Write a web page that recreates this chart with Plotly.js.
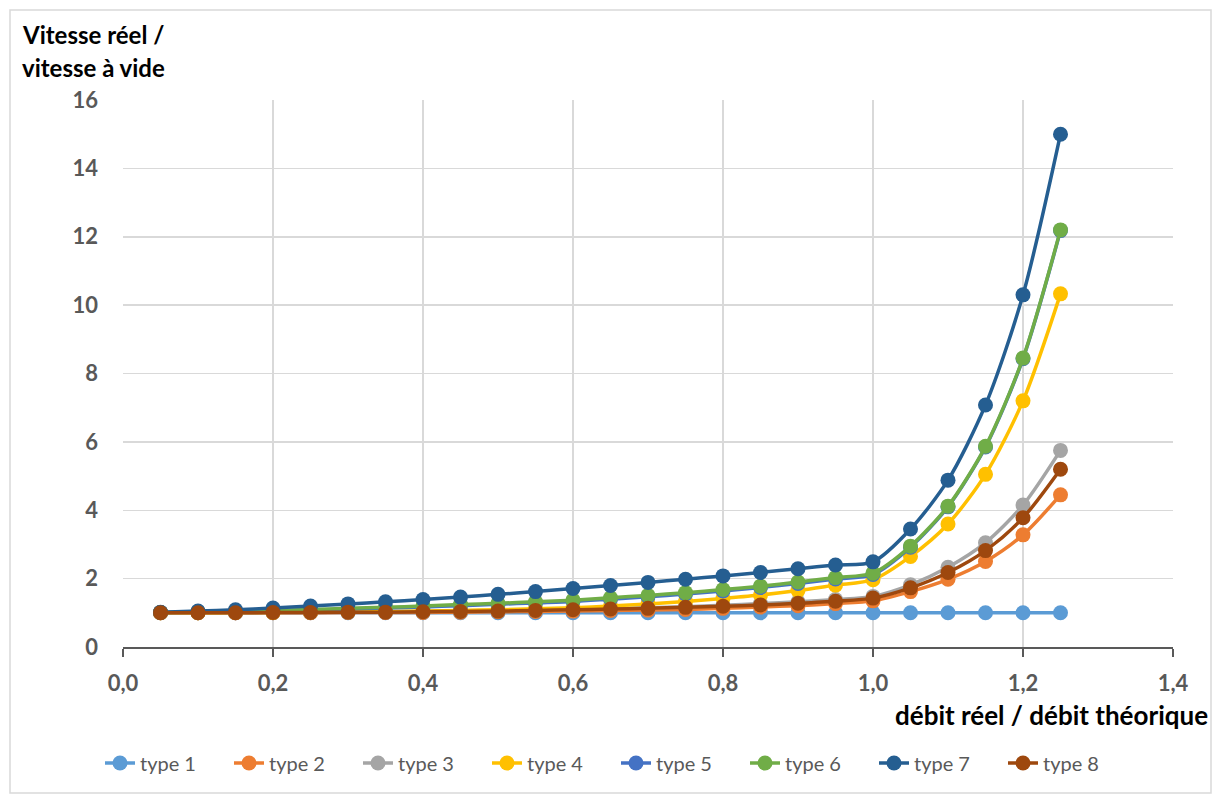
<!DOCTYPE html>
<html>
<head>
<meta charset="utf-8">
<script src="https://cdn.plot.ly/plotly-3.0.1.min.js"></script>
<style>html,body{margin:0;padding:0;background:#fff;}#chart{width:1212px;height:794px;}</style>
</head>
<body>
<div id="chart"></div>
<script>
const xValues = [0.05,0.10,0.15,0.20,0.25,0.30,0.35,0.40,0.45,0.50,0.55,0.60,0.65,0.70,0.75,0.80,0.85,0.90,0.95,1.00,1.05,1.10,1.15,1.20,1.25];
const type1 = [1,1,1,1,1,1,1,1,1,1,1,1,1,1,1,1,1,1,1,1,1,1,1,1,1];
const type2 = [1.00,1.00,1.00,1.00,1.00,1.01,1.01,1.01,1.02,1.03,1.04,1.05,1.07,1.08,1.10,1.13,1.17,1.21,1.27,1.35,1.62,1.98,2.50,3.28,4.45];
const type3 = [1.00,1.00,1.00,1.01,1.01,1.02,1.03,1.04,1.05,1.06,1.08,1.10,1.12,1.15,1.18,1.22,1.27,1.32,1.39,1.48,1.82,2.33,3.05,4.15,5.75];
const type4 = [1.00,1.00,1.01,1.01,1.02,1.03,1.04,1.05,1.07,1.09,1.12,1.15,1.20,1.26,1.33,1.42,1.52,1.65,1.81,1.97,2.65,3.60,5.05,7.20,10.33];
const type5 = [1.01,1.02,1.04,1.06,1.08,1.11,1.14,1.17,1.21,1.25,1.29,1.33,1.40,1.47,1.55,1.64,1.74,1.86,1.99,2.12,2.92,4.10,5.85,8.43,12.18];
const type6 = [1.01,1.03,1.05,1.07,1.10,1.13,1.16,1.20,1.24,1.28,1.32,1.37,1.44,1.51,1.59,1.68,1.78,1.90,2.03,2.16,2.95,4.12,5.87,8.45,12.20];
const type7 = [1.02,1.05,1.09,1.14,1.20,1.26,1.32,1.39,1.46,1.54,1.62,1.71,1.80,1.89,1.98,2.08,2.18,2.29,2.40,2.49,3.45,4.88,7.08,10.30,15.00];
const type8 = [1.00,1.00,1.00,1.01,1.01,1.02,1.02,1.03,1.04,1.05,1.07,1.09,1.11,1.13,1.16,1.19,1.23,1.28,1.34,1.43,1.73,2.18,2.82,3.78,5.20];

const seriesNames = ['type 1','type 2','type 3','type 4','type 5','type 6','type 7','type 8'];
const seriesData = [type1,type2,type3,type4,type5,type6,type7,type8];
const seriesColors = ['#5B9BD5','#ED7D31','#A5A5A5','#FFC000','#4472C4','#70AD47','#255E91','#9E480E'];

const xTicks = [0,0.2,0.4,0.6,0.8,1.0,1.2,1.4];
const yTicks = [0,2,4,6,8,10,12,14,16];

const traces = seriesData.map((d,i)=>({
  x: xValues, y: d, name: seriesNames[i], type: 'scatter', mode: 'lines+markers',
  line: {color: seriesColors[i], width: 3.5, shape: 'spline', smoothing: 0.8},
  marker: {color: seriesColors[i], size: 15}
}));

const fam = 'Lato, "DejaVu Sans", sans-serif';
const tickFont = {family: fam, size: 22, color: '#595959', weight: 'bold'};
const titleFont = {family: fam, size: 24, color: '#000000', weight: 'bold'};
const xTitleFont = {family: fam, size: 26, color: '#000000', weight: 'bold'};

const layout = {
  width: 1212, height: 794,
  margin: {l: 123, r: 39, t: 100, b: 147},
  paper_bgcolor: '#ffffff', plot_bgcolor: '#ffffff',
  separators: ', ',
  showlegend: true,
  legend: {orientation: 'h', x: (616-123)/1050, xanchor: 'center', y: (647-763)/547, yanchor: 'middle',
    font: {family: fam, size: 20, color: '#595959'},
    entrywidth: 84, entrywidthmode: 'pixels', tracegroupgap: 0},
  xaxis: {range: [0, 1.4], tickvals: xTicks, tickformat: '.1f', showgrid: true, gridcolor: '#D9D9D9', gridwidth: 1.5,
    zeroline: false, showline: true, linecolor: '#595959', linewidth: 1.5, ticks: 'outside', ticklen: 8, tickcolor: '#595959', tickwidth: 1.5,
    tickfont: tickFont, ticklabelstandoff: 8},
  yaxis: {range: [0, 16], tickvals: yTicks, showgrid: true, gridcolor: '#D9D9D9', gridwidth: 1.5,
    zeroline: false, showline: false, ticks: '', tickfont: tickFont, ticklabelstandoff: 24},
  annotations: [
    {text: 'Vitesse réel /', xref: 'paper', yref: 'paper', x: (20-123)/1050, y: (647-35)/547, xanchor: 'left', yanchor: 'middle', showarrow: false, font: titleFont},
    {text: 'vitesse à vide', xref: 'paper', yref: 'paper', x: (20-123)/1050, y: (647-68)/547, xanchor: 'left', yanchor: 'middle', showarrow: false, font: titleFont},
    {text: 'débit réel / débit théorique', xref: 'paper', yref: 'paper', x: (1210-123)/1050, y: (647-715)/547, xanchor: 'right', yanchor: 'middle', showarrow: false, font: xTitleFont}
  ],
  shapes: [
    {type: 'rect', xref: 'paper', yref: 'paper', x0: (10-123)/1050, x1: (1211-123)/1050, y0: (647-793)/547, y1: (647-10)/547, line: {color: '#D9D9D9', width: 1.5}, layer: 'below'}
  ]
};

Plotly.newPlot('chart', traces, layout, {displayModeBar: false, staticPlot: true});
</script>
</body>
</html>
